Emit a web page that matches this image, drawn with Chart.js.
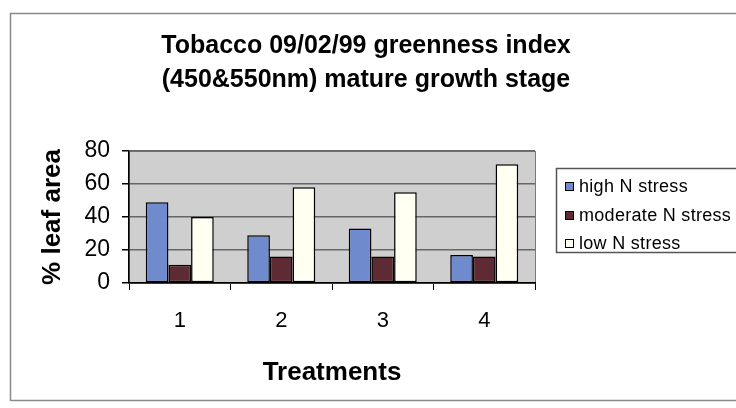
<!DOCTYPE html>
<html>
  <head>
    <meta charset="utf-8">
    <title>Tobacco greenness index</title>
    <style>
      html, body { margin: 0; padding: 0; background: #fff; }
      #wrap { width: 736px; height: 408px; }
    </style>
  </head>
  <body>
    <div id="wrap"><canvas id="MyCanvas" width="736" height="408"></canvas></div>
    <script src="https://cdn.jsdelivr.net/npm/chart.js@4.4.1/dist/chart.umd.min.js"></script>
    <script>
      const FONT = '"Liberation Sans", Arial, Helvetica, sans-serif';

      const treatments = ['1', '2', '3', '4'];
      const highN = [49, 29, 33, 17];
      const moderateN = [11, 16, 16, 16];
      const lowN = [40, 58, 55, 72];
      const seriesNames = ['high N stress', 'moderate N stress', 'low N stress'];
      const yTicks = [0, 20, 40, 60, 80];

      // frame round the whole chart, grey plot area, boxed legend
      const excelLook = {
        id: 'excelLook',
        afterLayout(chart) {
          // centre the title over the whole frame, not just the plot column
          if (chart.titleBlock) {
            chart.titleBlock.left = 0;
            chart.titleBlock.right = 732;
          }
        },
        beforeDraw(chart) {
          const ctx = chart.ctx;
          const a = chart.chartArea;
          ctx.save();
          ctx.strokeStyle = '#8a8a8a';
          ctx.lineWidth = 1.5;
          ctx.strokeRect(10.5, 13.5, 800, 387);
          ctx.fillStyle = '#cfcfcf';
          ctx.fillRect(a.left, a.top, a.right - a.left, a.bottom - a.top);
          ctx.strokeStyle = '#7a7a7a';
          ctx.lineWidth = 1;
          ctx.strokeRect(a.left + 0.5, a.top + 0.5, a.right - a.left, a.bottom - a.top);
          ctx.restore();
        },
        afterDraw(chart) {
          const ctx = chart.ctx;
          ctx.save();
          ctx.strokeStyle = '#555';
          ctx.lineWidth = 1.5;
          ctx.strokeRect(556.5, 168.5, 200, 84);
          ctx.font = '18px ' + FONT;
          ctx.letterSpacing = '0.3px';
          ctx.textBaseline = 'middle';
          const rows = [186, 215, 243];
          chart.data.datasets.forEach((ds, i) => {
            const y = rows[i];
            ctx.fillStyle = ds.backgroundColor;
            ctx.fillRect(565, y - 4, 8, 8);
            ctx.strokeStyle = '#000';
            ctx.lineWidth = 1;
            ctx.strokeRect(565.5, y - 3.5, 8, 8);
            ctx.fillStyle = '#000';
            ctx.fillText(ds.label, 579, y + 1);
          });
          ctx.restore();
        }
      };

      const barStyle = { borderColor: '#000', borderWidth: 1.5, borderSkipped: false,
                         categoryPercentage: 0.67, barPercentage: 1.0 };

      const ctx = document.getElementById('MyCanvas').getContext('2d');
      const myChart = new Chart(ctx, {
        type: 'bar',
        data: {
          labels: treatments,
          datasets: [
            Object.assign({ label: seriesNames[0], data: highN, backgroundColor: '#6f8bcd' }, barStyle),
            Object.assign({ label: seriesNames[1], data: moderateN, backgroundColor: '#5e2a33' }, barStyle),
            Object.assign({ label: seriesNames[2], data: lowN, backgroundColor: '#fffff2' }, barStyle)
          ]
        },
        options: {
          responsive: false,
          animation: false,
          layout: { padding: { left: 0, right: 201, top: 0, bottom: 0 } },
          plugins: {
            legend: { display: false },
            tooltip: { enabled: false },
            title: {
              display: true,
              text: ['Tobacco 09/02/99 greenness index', '(450&550nm) mature growth stage'],
              color: '#000',
              font: { family: FONT, size: 25, weight: 'bold', lineHeight: 1.36 },
              padding: { top: 29, bottom: 54 }
            }
          },
          scales: {
            x: {
              grid: { display: true, offset: true, drawOnChartArea: false, tickLength: 7,
                      color: '#000', lineWidth: 1 },
              border: { color: '#000', width: 1.5 },
              ticks: { color: '#000', padding: 18, font: { family: FONT, size: 22 } },
              title: { display: true, text: 'Treatments', color: '#000', padding: { top: 0, bottom: 20 },
                       font: { family: FONT, size: 26, weight: 'bold' } },
              afterFit(scale) { scale.height = 125; }
            },
            y: {
              min: 0,
              max: 80,
              afterBuildTicks(scale) { scale.ticks = yTicks.map(v => ({ value: v })); },
              grid: { color: '#666', lineWidth: 1.5, tickLength: 7, tickColor: '#000' },
              border: { color: '#000', width: 1.5 },
              ticks: { color: '#000', padding: 12, font: { family: FONT, size: 23 } },
              title: { display: true, text: '% leaf area', color: '#000', padding: { top: 37, bottom: 0 },
                       font: { family: FONT, size: 26, weight: 'bold' } },
              afterFit(scale) { scale.width = 129; }
            }
          }
        },
        plugins: [excelLook]
      });
    </script>
  </body>
</html>
